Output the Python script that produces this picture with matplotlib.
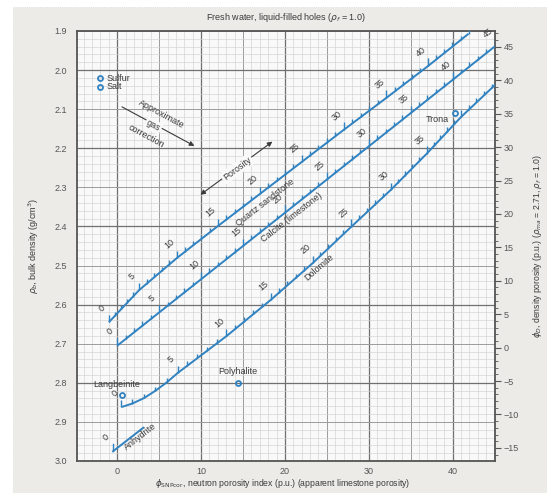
import numpy as np
import matplotlib.pyplot as plt
from matplotlib.patches import Rectangle
from matplotlib.collections import LineCollection
from matplotlib.ticker import MultipleLocator

plt.rcParams['font.family'] = ['Liberation Sans', 'DejaVu Sans']

# lithology lines: true porosity (p.u.) -> neutron index (p.u.), bulk density (g/cm3)
sand_phi = [0, 5, 10, 15, 20, 25, 30, 35, 40, 45]
sand_nphi = [-1.0, 2.6, 7.1, 12.0, 17.0, 22.0, 27.0, 32.1, 37.1, 41.9]
sand_rhob = [2.645, 2.563, 2.481, 2.399, 2.317, 2.235, 2.153, 2.071, 1.989, 1.907]

lime_phi = [0, 5, 10, 15, 20, 25, 30, 35, 40, 45]
lime_nphi = [0, 5, 10, 15, 20, 25, 30, 35, 40, 45]
lime_rhob = [2.705, 2.620, 2.535, 2.450, 2.365, 2.280, 2.195, 2.110, 2.025, 1.940]

dolo_phi = [0, 1, 2, 3, 4, 5, 10, 15, 20, 25, 30, 35, 40, 45]
dolo_nphi = [0.5, 1.8, 3.2, 4.5, 5.9, 7.2, 13.0, 18.3, 23.3, 27.9, 32.6, 36.9, 41.0, 45.6]
dolo_rhob = [2.862, 2.853, 2.839, 2.821, 2.799, 2.775, 2.681, 2.588, 2.494,
             2.401, 2.307, 2.214, 2.120, 2.027]

anhy_nphi = [-0.5, 3.1]
anhy_rhob = [2.975, 2.915]

# single minerals
min_names = ['Sulfur', 'Salt', 'Langbeinite', 'Polyhalite', 'Trona']
min_nphi = [-2.0, -2.0, 0.6, 14.4, 40.3]
min_rhob = [2.021, 2.042, 2.830, 2.800, 2.110]

blue = '#3182c0'
ink = '#3a3a3a'

fig = plt.figure(figsize=(5.47, 4.93), dpi=100, facecolor='white')
fig.patches.append(Rectangle((13 / 547, 0), 1, 486 / 493, transform=fig.transFigure,
                             facecolor='#ecebe8', edgecolor='#d8d8d8', lw=0.6,
                             linestyle=':', zorder=-10))
ax = fig.add_axes([77 / 547, 32 / 493, 418 / 547, 430 / 493])
ax.set_facecolor('#f9f9f9')
ax.set_xlim(-4.8, 45.05)
ax.set_ylim(3.0, 1.9)

# chart grid: 1 p.u. x 0.02 g/cm3, heavier every 5 / 0.1 and 10 / 0.2
for v in range(-4, 46):
    if v % 10 == 0:
        c, w = '#707070', 0.9
    elif v % 5 == 0:
        c, w = '#9c9c9c', 0.7
    else:
        c, w = '#d2d2d2', 0.45
    ax.axvline(v, color=c, lw=w, zorder=0)
for k in range(190, 301, 2):
    if k % 20 == 0:
        c, w = '#707070', 0.9
    elif k % 10 == 0:
        c, w = '#9c9c9c', 0.7
    else:
        c, w = '#d2d2d2', 0.45
    ax.axhline(k / 100, color=c, lw=w, zorder=0)


def porosity_line(phi, nphi, rhob, labels, last):
    ax.plot(nphi, rhob, color=blue, lw=1.4, zorder=3, solid_capstyle='butt')
    steps = np.arange(0, last + 1)
    tx = np.interp(steps, phi, nphi)
    ty = np.interp(steps, phi, rhob)
    segs = []
    for s, x, y in zip(steps, tx, ty):
        ln = 0.019 if s % 5 == 0 else 0.011
        segs.append([(x, y), (x, y - ln)])
    ax.add_collection(LineCollection(segs, colors=blue, lw=1.0, zorder=3))
    for p in labels:
        x = np.interp(p, phi, nphi)
        y = np.interp(p, phi, rhob)
        ax.annotate(str(p), (x, y), xytext=(-5, 10), textcoords='offset points',
                    rotation=40, ha='center', va='center', fontsize=6.5, color=ink,
                    annotation_clip=False)


porosity_line(sand_phi, sand_nphi, sand_rhob, range(0, 41, 5), 45)
porosity_line(lime_phi, lime_nphi, lime_rhob, range(0, 46, 5), 45)
porosity_line(dolo_phi, dolo_nphi, dolo_rhob, range(0, 36, 5), 44)

# anhydrite point with its zero tick
ax.plot(anhy_nphi, anhy_rhob, color=blue, lw=1.4, zorder=3)
ax.plot([anhy_nphi[0], anhy_nphi[0]], [anhy_rhob[0], anhy_rhob[0] - 0.019],
        color=blue, lw=1.0, zorder=3)
ax.annotate('0', (anhy_nphi[0], anhy_rhob[0]), xytext=(-5, 10), textcoords='offset points',
            rotation=40, ha='center', va='center', fontsize=6.5, color=ink)

ax.text(17.7, 2.339, 'Quartz sandstone', rotation=38, ha='center', va='center',
        fontsize=6.5, color=ink)
ax.text(20.8, 2.378, 'Calcite (limestone)', rotation=38, ha='center', va='center',
        fontsize=6.5, color=ink)
ax.text(24.1, 2.504, 'Dolomite', rotation=41, ha='center', va='center',
        fontsize=6.5, color=ink)
ax.text(2.75, 2.939, 'Anhydrite', rotation=38, ha='center', va='center',
        fontsize=6.5, color=ink)

ax.plot(min_nphi, min_rhob, 'o', ms=3.6, mfc='none', mec=blue, mew=1.3, zorder=4)
ax.text(-1.25, 2.021, 'Sulfur', ha='left', va='center', fontsize=6.5, color=ink)
ax.text(-1.25, 2.042, 'Salt', ha='left', va='center', fontsize=6.5, color=ink)
ax.text(-0.1, 2.805, 'Langbeinite', ha='center', va='center', fontsize=6.5, color=ink)
ax.text(14.4, 2.771, 'Polyhalite', ha='center', va='center', fontsize=6.5, color=ink)
ax.text(39.6, 2.126, 'Trona', ha='right', va='center', fontsize=6.5, color=ink)

# gas correction arrow
ax.annotate('', xy=(9.2, 2.194), xytext=(0.56, 2.094),
            arrowprops=dict(arrowstyle='-|>', color=ink, lw=0.8, mutation_scale=7,
                            shrinkA=0, shrinkB=0), zorder=4)
ax.text(5.3, 2.113, 'Approximate', rotation=-28.5, ha='center', va='center',
        fontsize=6.5, color=ink)
ax.text(4.3, 2.142, 'gas', rotation=-28.5, ha='center', va='center', fontsize=6.5,
        color=ink, zorder=5,
        bbox=dict(boxstyle='square,pad=0.15', fc='#f9f9f9', ec='none'))
ax.text(3.4, 2.170, 'correction', rotation=-28.5, ha='center', va='center',
        fontsize=6.5, color=ink)

# porosity direction arrow
ax.annotate('', xy=(18.5, 2.183), xytext=(9.92, 2.319),
            arrowprops=dict(arrowstyle='<|-|>', color=ink, lw=0.8, mutation_scale=7,
                            shrinkA=0, shrinkB=0), zorder=4)
ax.text(14.3, 2.252, 'Porosity', rotation=37, ha='center', va='center', fontsize=6.5,
        color=ink, zorder=5,
        bbox=dict(boxstyle='square,pad=0.2', fc='#f9f9f9', ec='none'))

ax.set_xticks([0, 10, 20, 30, 40])
ax.set_yticks(np.round(np.arange(1.9, 3.01, 0.1), 1))
ax.yaxis.set_major_formatter(plt.FormatStrFormatter('%.1f'))
ax.tick_params(length=0, labelsize=6.5, labelcolor='#555555')
ax.tick_params(axis='y', pad=7)
ax.tick_params(axis='x', pad=4)
for s in ax.spines.values():
    s.set_color('#555555')
    s.set_linewidth(1.3)

ax.set_ylabel(r'$\rho_b$, bulk density (g/cm$^3$)', fontsize=6.5, color=ink)
ax.yaxis.set_label_coords(-0.086, 0.5)
fig.text(283 / 547, 1 - 484 / 493,
         r'$\phi_{\mathrm{SNPcor}}$, neutron porosity index (p.u.) (apparent limestone porosity)',
         ha='center', va='center', fontsize=6.2, color=ink)

# density porosity scale on the right
rho_ma, rho_f = 2.71, 1.0
ax2 = ax.twinx()
ax2.set_ylim((rho_ma - 3.0) / (rho_ma - rho_f) * 100, (rho_ma - 1.9) / (rho_ma - rho_f) * 100)
ax2.yaxis.set_major_locator(MultipleLocator(5))
ax2.yaxis.set_minor_locator(MultipleLocator(1))
ax2.tick_params(which='major', length=4, width=0.8, color='#555555', labelsize=6.5,
                labelcolor='#555555', pad=2)
ax2.tick_params(which='minor', length=2.2, width=0.6, color='#555555')
ax2.set_yticks(range(-15, 46, 5))
ax2.set_yticklabels([str(t).replace('-', '\u2212') for t in range(-15, 46, 5)])
for s in ax2.spines.values():
    s.set_visible(False)
ax2.set_ylabel(r'$\phi_D$, density porosity (p.u.) ($\rho_{ma}$ = 2.71, $\rho_f$ = 1.0)',
               fontsize=6.2, color=ink)
ax2.yaxis.set_label_coords(1.086, 0.5)

fig.text(286 / 547, 1 - 18 / 493, r'Fresh water, liquid-filled holes ($\rho_f$ = 1.0)',
         ha='center', va='center', fontsize=6.5, color=ink)

fig.savefig('out.png', dpi=100, facecolor=fig.get_facecolor())
